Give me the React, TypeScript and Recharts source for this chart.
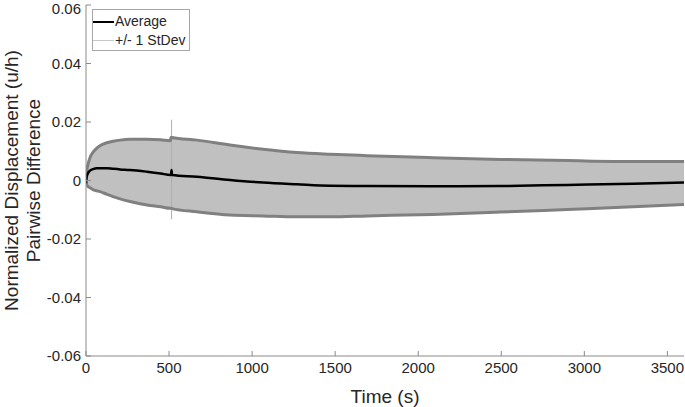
import React from "react";
import {
  Area,
  ComposedChart,
  Legend,
  Line,
  ReferenceLine,
  XAxis,
  YAxis,
} from "recharts";

/* values */
const TIME = [
  0, 4, 12, 24, 42, 64, 84, 125, 163, 205, 265, 367, 450, 508, 512, 515, 518,
  668, 867, 1066, 1270, 1469, 1692, 2089, 2493, 2896, 3293, 3600,
];
const UPPER = [
  0.0, 0.003, 0.0055, 0.0078, 0.0096, 0.011, 0.0119, 0.0129, 0.0134, 0.0138,
  0.0141, 0.0141, 0.0139, 0.0136, 0.0148, 0.0148, 0.0147, 0.0138, 0.0121,
  0.0107, 0.0096, 0.009, 0.0085, 0.0078, 0.0072, 0.0068, 0.0065, 0.0065,
];
const LOWER = [
  -0.0005, -0.0015, -0.002, -0.0025, -0.0031, -0.0035, -0.0038, -0.0047,
  -0.0055, -0.0063, -0.0072, -0.0084, -0.009, -0.0095, -0.0095, -0.0095,
  -0.0096, -0.0107, -0.0118, -0.0121, -0.0124, -0.0124, -0.0121, -0.0116,
  -0.0108, -0.0099, -0.009, -0.0082,
];
const AVERAGE = [
  -0.001, 0.0012, 0.0025, 0.0034, 0.0039, 0.0042, 0.0042, 0.0042, 0.004,
  0.0038, 0.0036, 0.003, 0.0024, 0.0019, 0.0019, 0.0036, 0.0019, 0.0013,
  0.0002, -0.0007, -0.0013, -0.0018, -0.0019, -0.002, -0.0019, -0.0015,
  -0.0011, -0.0007,
];
/* single-sample glitch in the stdev band */
const SPIKE_TIME = 515;
const SPIKE_RANGE = [-0.0133, 0.0208];

const X_TICKS = [0, 500, 1000, 1500, 2000, 2500, 3000, 3500];
const Y_TICKS = [-0.06, -0.04, -0.02, 0, 0.02, 0.04, 0.06];

const FONT = "'Liberation Sans', Arial, sans-serif";
const TEXT = "#262626";
const AXIS = "#8a8a8a";
const BAND = "#c0c0c0";
const EDGE = "#808080";

const data = TIME.map((t, i) => ({
  t,
  band: [LOWER[i], UPPER[i]],
  upper: UPPER[i],
  lower: LOWER[i],
  avg: AVERAGE[i],
}));

function YTitle({ viewBox }: any) {
  const cy = viewBox.y + viewBox.height / 2;
  return (
    <g fill={TEXT} fontSize={19} fontFamily={FONT}>
      <text
        x={11}
        y={cy}
        textAnchor="middle"
        dominantBaseline="central"
        transform={`rotate(-90 11 ${cy})`}
      >
        Normalized Displacement (u/h)
      </text>
      <text
        x={33}
        y={cy}
        textAnchor="middle"
        dominantBaseline="central"
        transform={`rotate(-90 33 ${cy})`}
      >
        Pairwise Difference
      </text>
    </g>
  );
}

function XTitle({ viewBox }: any) {
  return (
    <text
      x={viewBox.x + viewBox.width / 2}
      y={viewBox.y + 47}
      textAnchor="middle"
      fill={TEXT}
      fontSize={19}
      fontFamily={FONT}
    >
      Time (s)
    </text>
  );
}

function LegendBox() {
  const row = (color: string, w: number, label: string) => (
    <div style={{ display: "flex", alignItems: "center", height: 19 }}>
      <span
        style={{
          display: "inline-block",
          width: 21,
          height: 0,
          borderTop: `${w}px solid ${color}`,
          marginRight: 1,
        }}
      />
      <span>{label}</span>
    </div>
  );
  return (
    <div
      style={{
        border: "1px solid #a6a6a6",
        background: "#fff",
        width: 96,
        height: 38,
        paddingTop: 2,
        boxSizing: "content-box",
        fontFamily: FONT,
        fontSize: 14,
        color: TEXT,
        lineHeight: "19px",
      }}
    >
      {row("#000", 2, "Average")}
      {row("#c8c8c8", 1, "+/- 1 StDev")}
    </div>
  );
}

export default function App() {
  return (
    <div style={{ position: "absolute", left: 0, top: 0, background: "#fff" }}>
      <ComposedChart
        width={685}
        height={407}
        data={data}
        margin={{ top: 5, right: 1, bottom: 0, left: 0 }}
        style={{ fontFamily: FONT }}
      >
        <XAxis
          dataKey="t"
          type="number"
          domain={[0, 3600]}
          ticks={X_TICKS}
          height={51}
          tickSize={-5}
          tickMargin={11}
          stroke={AXIS}
          tick={{ fill: TEXT, fontSize: 15, fontFamily: FONT }}
          label={{ content: XTitle }}
          allowDataOverflow
        />
        <YAxis
          type="number"
          domain={[-0.06, 0.06]}
          ticks={Y_TICKS}
          width={86}
          tickSize={-5}
          tickMargin={10}
          stroke={AXIS}
          tick={{ fill: TEXT, fontSize: 15, fontFamily: FONT }}
          label={{ content: YTitle }}
          allowDataOverflow
        />
        <Legend
          content={LegendBox}
          layout="horizontal"
          verticalAlign="middle"
          align="center"
          wrapperStyle={{ top: 9, left: 92, width: 98, height: 40 }}
        />
        <Area
          dataKey="band"
          type="monotone"
          fill={BAND}
          fillOpacity={1}
          stroke="none"
          isAnimationActive={false}
          legendType="none"
        />
        <ReferenceLine
          segment={[
            { x: SPIKE_TIME, y: SPIKE_RANGE[0] },
            { x: SPIKE_TIME, y: SPIKE_RANGE[1] },
          ]}
          stroke="#b0b0b0"
          strokeWidth={1}
        />
        <Line
          dataKey="upper"
          type="monotone"
          stroke={EDGE}
          strokeWidth={3}
          dot={false}
          isAnimationActive={false}
        />
        <Line
          dataKey="lower"
          type="monotone"
          stroke={EDGE}
          strokeWidth={3}
          dot={false}
          isAnimationActive={false}
        />
        <Line
          dataKey="avg"
          type="monotone"
          stroke="#000"
          strokeWidth={2.5}
          dot={false}
          isAnimationActive={false}
        />
      </ComposedChart>
    </div>
  );
}
